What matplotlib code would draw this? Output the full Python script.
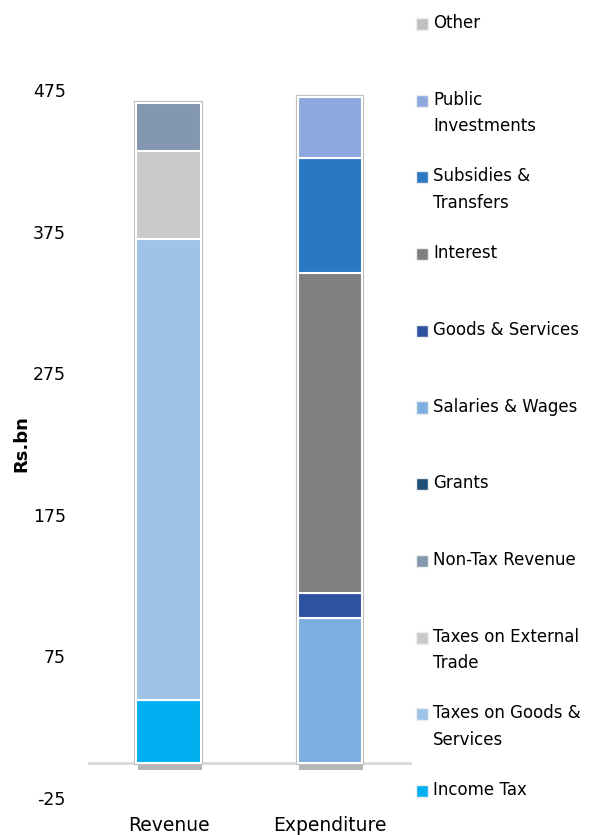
import numpy as np
import matplotlib
matplotlib.use('Agg')
import matplotlib.pyplot as plt
import matplotlib.patheffects as pe
from matplotlib.patches import Rectangle

categories = ['Revenue', 'Expenditure']

# stacking order, bottom to top
series = ['Income Tax', 'Taxes on Goods &\nServices', 'Taxes on External\nTrade',
          'Non-Tax Revenue', 'Grants', 'Salaries & Wages', 'Goods & Services',
          'Interest', 'Subsidies &\nTransfers', 'Public\nInvestments', 'Other']
revenue = [44, 326, 62, 34, 0, 0, 0, 0, 0, 0, 0]
expenditure = [0, 0, 0, 0, 0, 102, 18, 226, 81, 43, 0]

colors = ['#00B0F0', '#9DC3E6', '#C9C9C9', '#8497B0', '#1F4E79', '#7DAEDF',
          '#2F52A0', '#7F7F7F', '#2A78C4', '#8DA8DC', '#C0C0C0']

yticks = [475, 375, 275, 175, 75, -25]

plt.rcParams['font.family'] = ['DejaVu Sans']
plt.rcParams['axes.unicode_minus'] = False

fig = plt.figure(figsize=(6.13, 8.35), dpi=100)
ax = fig.add_axes([88 / 613, 37 / 835, 324 / 613, 708 / 835])

values = np.array([revenue, expenditure])
x = np.arange(len(categories))
width = 0.40

# one soft shadow behind each whole stack
totals = values.sum(axis=1)
ax.bar(x, totals, width=width, color='white', edgecolor='#BDBDBD', linewidth=3,
       path_effects=[pe.SimplePatchShadow(offset=(1, -5), shadow_rgbFace='#303030', alpha=0.35),
                     pe.Normal()], zorder=2.5)

bottom = np.zeros(len(categories))
for i, name in enumerate(series):
    v = values[:, i]
    keep = v > 0
    if keep.any():
        ax.bar(x[keep], v[keep], width=width, bottom=bottom[keep], color=colors[i],
               edgecolor='white', linewidth=1.5, zorder=3)
    bottom += v

ax.axhline(0, color='#D9D9D9', linewidth=2, zorder=2)
ax.set_xlim(-0.5, 1.51)
ax.set_ylim(-25, 475)
ax.set_yticks(yticks)
ax.set_xticks(x)
ax.set_xticklabels(categories, fontsize=13.5)
ax.tick_params(axis='y', length=0, pad=16, labelsize=12.5)
ax.tick_params(axis='x', length=0, pad=13)
for s in ax.spines.values():
    s.set_visible(False)
ax.set_ylabel('Rs.bn', fontsize=13, fontweight='bold')
ax.yaxis.set_label_coords(-58 / 324, 0.5)

# legend, top entry is last series
ys = np.linspace(835 - 24, 835 - 791, len(series))
for i, name in enumerate(series[::-1]):
    yp = ys[i] / 835
    c = colors[::-1][i]
    fig.patches.append(Rectangle((416 / 613, yp - 6 / 835), 12 / 613, 12 / 835,
                                 transform=fig.transFigure, facecolor=c,
                                 edgecolor='#EEEEEE', linewidth=1))
    fig.text(433 / 613, yp + 10 / 835, name, fontsize=12, va='top', ha='left',
             linespacing=1.6)

fig.savefig('out.png', dpi=100)
